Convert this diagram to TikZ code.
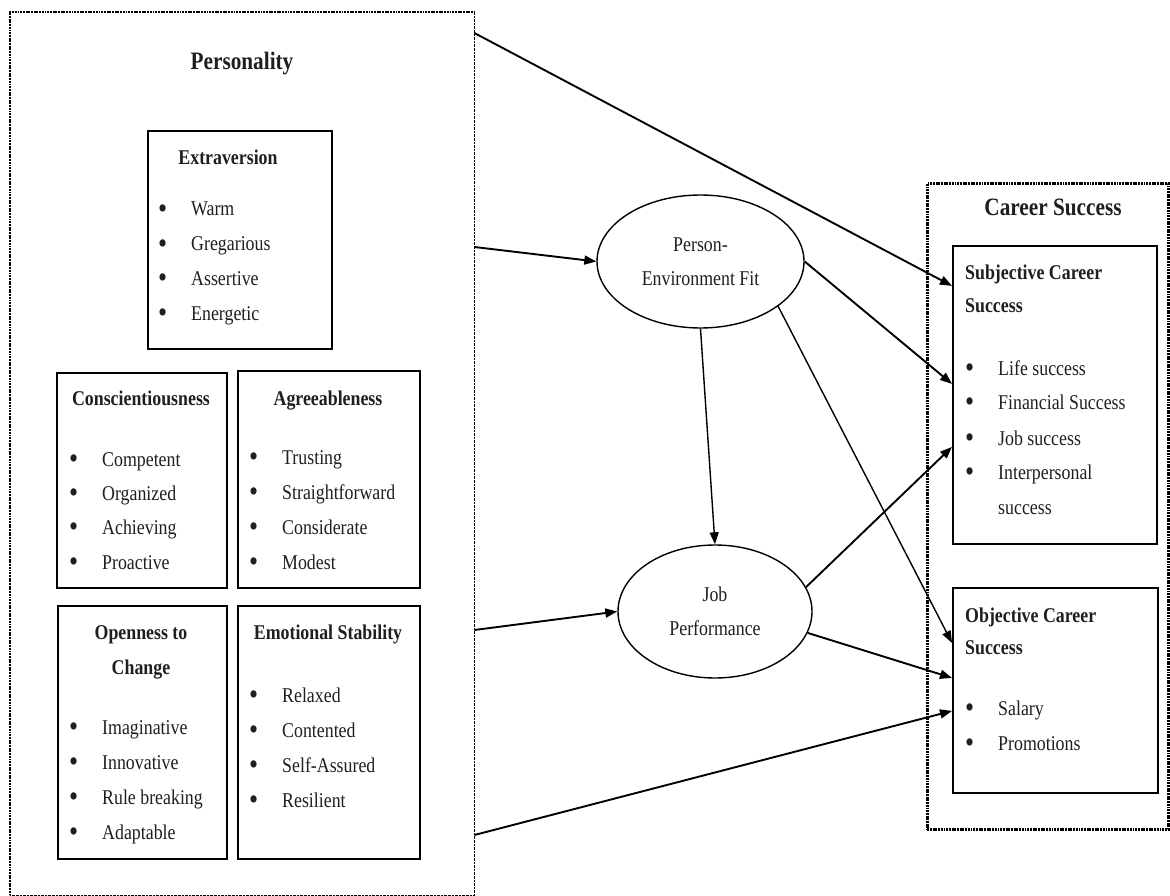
\documentclass[tikz,border=0pt]{standalone}
\usepackage{fontspec}
\setmainfont{Liberation Serif}[FakeStretch=0.85]
\usetikzlibrary{arrows.meta,shapes.geometric}
\newcommand\bul{\makebox[33pt][l]{\raisebox{-2.5pt}{\scalebox{1.45}{\textbullet}}}}
\begin{document}
\begin{tikzpicture}[x=1pt,y=-1pt,
  every node/.style={font=\fontsize{21pt}{34pt}\selectfont,text=black!88,inner sep=0pt},
  dotline/.style={line width=2.6pt,dash pattern=on 1.9pt off 0.8pt},
  thindot/.style={line width=1.3pt,dash pattern=on 2.6pt off 1pt},
  framebox/.style={draw,line width=1.8pt,anchor=north west,inner sep=0pt},
  bigtitle/.style={font=\fontsize{25pt}{30pt}\selectfont\bfseries,anchor=base},
  boxtitle/.style={font=\fontsize{21pt}{30pt}\selectfont\bfseries,anchor=base},
  boxtitleL/.style={font=\fontsize{21pt}{30pt}\selectfont\bfseries,anchor=base west},
  itm/.style={anchor=base west},
  oval/.style={draw,ellipse,line width=1.4pt,inner sep=0pt,align=center},
  arr/.style={line width=1.9pt,-{Triangle[length=12pt,width=9pt]}},
  thinarr/.style={line width=1.4pt,-{Triangle[length=12pt,width=9pt]}}
]
\useasboundingbox (0,0) rectangle (1170,896);
\fill[white] (0,0) rectangle (1170,896);

% Personality frame
\node[anchor=north west,minimum width=464pt,minimum height=883pt] (pers) at (10,12) {};
\draw[dotline] (pers.south west) -- (pers.north west) -- (pers.north east);
\draw[thindot] (pers.north east) -- (pers.south east) -- (pers.south west);
\node[bigtitle] (perstitle) at (242,70) {Personality};

% Extraversion
\node[framebox,minimum width=184pt,minimum height=218pt] (ext) at (147,130) {};
\node[boxtitle] (exttitle) at (228,165) {Extraversion};
\foreach \t/\y [count=\i] in {Warm/209,Gregarious/244,Assertive/278,Energetic/313}
  \node[itm] (ex\i) at (158,\y+7) {\bul\t};

% Conscientiousness
\node[framebox,minimum width=170pt,minimum height=215pt] (con) at (56,372) {};
\node[boxtitle] (contitle) at (141,405) {Conscientiousness};
\foreach \t/\y [count=\i] in {Competent/459,Organized/493,Achieving/527,Proactive/562}
  \node[itm] (co\i) at (69,\y+7) {\bul\t};

% Agreeableness
\node[framebox,minimum width=182pt,minimum height=217pt] (agr) at (237,370) {};
\node[boxtitle] (agrtitle) at (328,405) {Agreeableness};
\foreach \t/\y [count=\i] in {Trusting/457,Straightforward/492,Considerate/527,Modest/562}
  \node[itm] (ag\i) at (249,\y+7) {\bul\t};

% Openness
\node[framebox,minimum width=169pt,minimum height=253pt] (opn) at (57,605) {};
\node[boxtitle] (opntitleA) at (141,639) {Openness to};
\node[boxtitle] (opntitleB) at (141,674) {Change};
\foreach \t/\y [count=\i] in {Imaginative/727,Innovative/762,Rule breaking/797,Adaptable/832}
  \node[itm] (op\i) at (69,\y+7) {\bul\t};

% Emotional Stability
\node[framebox,minimum width=182pt,minimum height=253pt] (emo) at (237,605) {};
\node[boxtitle] (emotitle) at (328,639) {Emotional Stability};
\foreach \t/\y [count=\i] in {Relaxed/695,Contented/730,Self-Assured/765,Resilient/800}
  \node[itm] (em\i) at (249,\y+7) {\bul\t};

% Ellipses
\node[oval,minimum width=207pt,minimum height=133pt] (pe) at (700.5,261.5) {Person-\\Environment Fit};
\node[oval,minimum width=194pt,minimum height=133pt] (jp) at (715,611.5) {Job\\Performance};

% Career Success frame
\node[anchor=north west,draw,dotline,minimum width=241pt,minimum height=646pt] (cs) at (926,182) {};
\node[bigtitle] (cstitle) at (1053,215) {Career Success};

% Subjective
\node[framebox,minimum width=204pt,minimum height=298pt] (subj) at (952,245) {};
\node[boxtitleL] (subjtitleA) at (965,279) {Subjective Career};
\node[boxtitleL] (subjtitleB) at (965,312) {Success};
\foreach \t/\y [count=\i] in {Life success/368,Financial Success/402,Job success/438,Interpersonal/472}
  \node[itm] (su\i) at (965,\y+7) {\bul\t};
\node[itm] (su5) at (998,514) {success};

% Objective
\node[framebox,minimum width=205pt,minimum height=205pt] (obj) at (952,587) {};
\node[boxtitleL] (objtitleA) at (965,622) {Objective Career};
\node[boxtitleL] (objtitleB) at (965,654) {Success};
\foreach \t/\y [count=\i] in {Salary/708,Promotions/743}
  \node[itm] (ob\i) at (965,\y+7) {\bul\t};

% start points on the Personality frame
\coordinate (s1) at ([yshift=-21pt]pers.north east);
\coordinate (s2) at ([yshift=-235pt]pers.north east);
\coordinate (s3) at ([yshift=-618pt]pers.north east);
\coordinate (s4) at ([yshift=-823pt]pers.north east);

% connectors
\draw[arr] (s1) -- ([yshift=109pt]subj.west);
\draw[arr] (s2) -- (pe.west);
\draw[arr] (s3) -- (jp.west);
\draw[arr] (s4) -- ([yshift=-20.5pt]obj.west);
\draw[thinarr] (pe.south) -- (jp.north);
\draw[arr] (pe.east) -- ([yshift=11pt]subj.west);
\draw[thinarr] (pe.330) -- ([yshift=47.5pt]obj.west);
\draw[arr] (jp.15) -- ([yshift=-52pt]subj.west);
\draw[arr] (jp.347) -- ([yshift=12.5pt]obj.west);
\end{tikzpicture}
\end{document}
